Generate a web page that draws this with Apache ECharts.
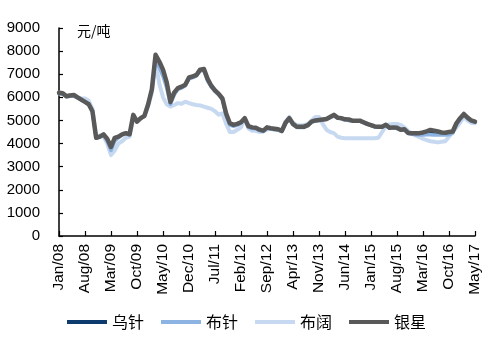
<!DOCTYPE html>
<html>
<head>
<meta charset="utf-8">
<script src="https://cdn.jsdelivr.net/npm/echarts@6/dist/echarts.min.js"></script>
<style>
html,body{margin:0;padding:0;background:#fff;}
#chart{width:500px;height:347px;}
</style>
</head>
<body>
<div id="chart"></div>
<script>
// Categories: monthly, Jan/08 .. May/17
const monthNames = ['Jan','Feb','Mar','Apr','May','Jun','Jul','Aug','Sep','Oct','Nov','Dec'];
const categories = [];
for (let y = 2008; y <= 2017; y++) {
  for (let m = 0; m < 12; m++) {
    if (y === 2017 && m > 4) break;
    categories.push(monthNames[m] + '/' + String(y).slice(2));
  }
}
const seriesNames = ['乌针', '布针', '布阔', '银星'];
const yTicks = [0, 1000, 2000, 3000, 4000, 5000, 6000, 7000, 8000, 9000];

const wuZhen = [6180,6160,6040,6070,6080,5990,5890,5800,5700,5390,
4240,4290,4380,4180,3820,4220,4280,4390,4440,4390,
5220,4940,5090,5190,5680,6330,7780,7480,7100,6550,
5750,6150,6380,6440,6520,6840,6880,6950,7180,7210,
6760,6480,6280,6130,5930,5260,4850,4790,4830,4900,
5090,4730,4680,4660,4580,4540,4680,4650,4620,4600,
4540,4890,5090,4840,4720,4720,4720,4790,4940,4990,
5010,5030,5050,5140,5220,5110,5090,5040,5030,4980,
4980,4980,4910,4840,4790,4730,4720,4720,4800,4670,
4690,4670,4590,4610,4450,4440,4430,4420,4440,4480,
4500,4480,4450,4430,4430,4450,4480,4850,5080,5250,
5100,4980,4940];

const buZhen = [6150,6130,6020,6050,6050,5980,5880,5800,5700,5380,
4230,4280,4350,4100,3700,4100,4250,4380,4420,4380,
5200,4950,5080,5180,5650,6300,7600,7300,6900,6400,
5700,6100,6350,6400,6500,6800,6850,6920,7150,7180,
6700,6450,6250,6100,5900,5200,4800,4750,4800,4880,
5080,4700,4650,4640,4560,4520,4660,4630,4600,4580,
4520,4880,5080,4820,4700,4700,4700,4780,4930,4970,
5000,5020,5040,5120,5200,5100,5070,5020,5000,4960,
4960,4960,4900,4830,4780,4720,4710,4710,4790,4660,
4680,4650,4580,4590,4440,4400,4380,4370,4370,4380,
4380,4370,4370,4370,4370,4380,4450,4800,5050,5230,
5080,4960,4920];

const buKuo = [6200,6150,6050,6100,6050,6000,5950,5950,5850,5500,
4300,4350,4300,4000,3500,3700,4000,4100,4250,4300,
5050,5000,5100,5200,5600,6200,7500,6600,6000,5700,
5600,5670,5750,5720,5810,5750,5700,5670,5650,5600,
5550,5500,5400,5250,5300,4850,4500,4500,4600,4700,
5100,4650,4550,4550,4500,4520,4600,4650,4620,4600,
4550,4950,5150,4900,4800,4780,4800,4850,5000,5150,
5150,4850,4600,4500,4450,4300,4250,4230,4230,4230,
4230,4230,4230,4230,4230,4230,4250,4500,4750,4830,
4850,4850,4800,4700,4550,4450,4350,4280,4200,4150,
4100,4080,4050,4080,4100,4300,4500,4700,4900,5150,
5000,4900,4880];

const yinXing = [6200,6180,6050,6080,6100,6000,5900,5800,5700,5400,
4250,4300,4400,4200,3850,4250,4300,4400,4450,4400,
5240,4950,5100,5200,5700,6350,7840,7550,7200,6650,
5800,6200,6400,6460,6540,6860,6900,6970,7200,7230,
6800,6500,6300,6150,5950,5300,4880,4810,4850,4920,
5100,4750,4700,4680,4600,4560,4700,4660,4640,4620,
4550,4900,5100,4850,4730,4730,4730,4800,4950,5000,
5020,5040,5060,5150,5240,5120,5100,5050,5040,4990,
4990,4990,4920,4850,4800,4740,4730,4730,4810,4680,
4700,4680,4600,4620,4460,4450,4450,4450,4480,4530,
4590,4560,4520,4480,4470,4500,4520,4880,5100,5280,
5120,5000,4950];

const colors = ['#0d3b6e', '#8db3e2', '#c6d9f1', '#595959'];
const widths = [3, 3.5, 4, 4.5];
const seriesData = [wuZhen, buZhen, buKuo, yinXing];
const zOrder = [2, 3, 1, 4];

const chart = echarts.init(document.getElementById('chart'), null, {renderer: 'canvas'});
const latin = '"Liberation Sans", Arial, sans-serif';
const cjk = '"Noto Sans CJK SC", sans-serif';

chart.setOption({
  animation: false,
  backgroundColor: '#fff',
  color: colors,
  grid: {left: 59, right: 25, top: 28, bottom: 111, containLabel: false},
  graphic: [{
    type: 'text', left: 77, top: 24,
    style: {text: '元/吨', fontSize: 14, fontFamily: cjk, fill: '#000'}
  }],
  legend: {
    left: 62, top: 309,
    itemWidth: 40, itemHeight: 4, itemGap: 17,
    icon: 'rect',
    textStyle: {fontSize: 16, fontFamily: cjk, color: '#000'},
    data: seriesNames.map((n, i) => ({name: n, itemStyle: {color: colors[i]}}))
  },
  xAxis: {
    type: 'category',
    data: categories,
    boundaryGap: false,
    axisLine: {lineStyle: {color: '#000', width: 1.5}},
    axisTick: {inside: true, interval: 6, length: 5, lineStyle: {color: '#000', width: 1.2}},
    axisLabel: {interval: 6, rotate: 90, fontSize: 15.5, fontFamily: latin, color: '#000', margin: 8},
    splitLine: {show: false}
  },
  yAxis: {
    type: 'value',
    min: yTicks[0], max: yTicks[yTicks.length - 1], interval: 1000,
    axisLine: {show: true, lineStyle: {color: '#000', width: 1.5}},
    axisTick: {show: true, inside: true, length: 4, lineStyle: {color: '#000', width: 1.2}},
    axisLabel: {fontSize: 15, fontFamily: latin, color: '#000', margin: 19,
      formatter: v => String(v)},
    splitLine: {show: false}
  },
  series: seriesNames.map((n, i) => ({
    name: n,
    type: 'line',
    data: seriesData[i],
    showSymbol: false,
    symbol: 'none',
    z: zOrder[i],
    lineStyle: {color: colors[i], width: widths[i], join: 'round', cap: 'round'},
    itemStyle: {color: colors[i]}
  }))
});
</script>
</body>
</html>
